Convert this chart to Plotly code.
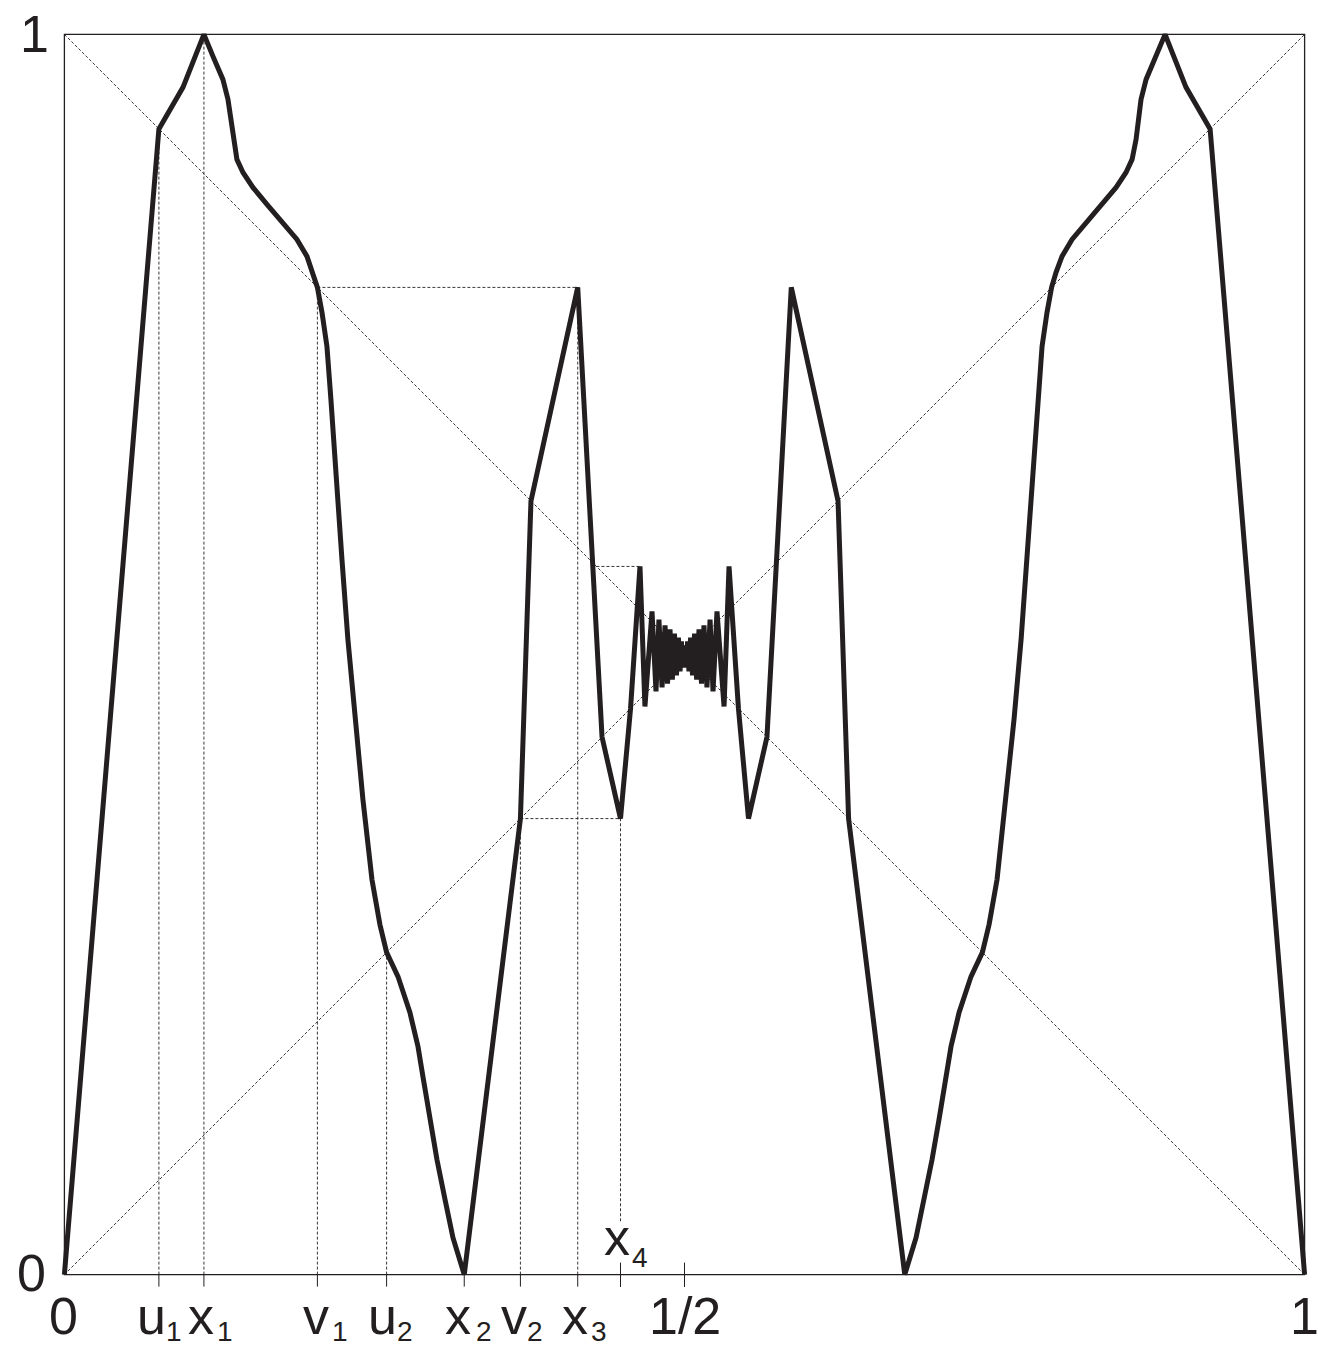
import plotly.graph_objects as go

# ---------------- data ----------------
# named points on the x axis
u1, x1, v1, u2, x2, v2, x3, x4, half = 0.0762, 0.1125, 0.2040, 0.2598, 0.3224, 0.3677, 0.4139, 0.4484, 0.5
f_u1, f_x1, f_v1, f_u2, f_v2, f_x3, f_x4 = 0.9238, 1.0, 0.7960, 0.2598, 0.3677, 0.7960, 0.3677
spike_x, spike_y, spike_from = 0.4641, 0.5710, 0.4290

# graph of the map, left half
curve_x_left = [0.0000, 0.0762, 0.0956, 0.1125, 0.1198, 0.1278, 0.1319, 0.1343, 0.1359, 0.1391,
                0.1440, 0.1520, 0.1633, 0.1762, 0.1875, 0.1956, 0.2004, 0.2040, 0.2077, 0.2117,
                0.2149, 0.2189, 0.2238, 0.2286, 0.2343, 0.2407, 0.2480, 0.2544, 0.2598, 0.2690,
                0.2786, 0.2851, 0.2891, 0.2948, 0.3004, 0.3069, 0.3133, 0.3224, 0.3677, 0.3762,
                0.4139, 0.4335, 0.4484, 0.4565, 0.4641, 0.4681, 0.4738, 0.4770, 0.4794, 0.4819,
                0.4843, 0.4863, 0.4883, 0.4902, 0.4919, 0.4935, 0.4951, 0.4964, 0.4975, 0.4985,
                0.4993, 0.5000]
curve_y_left = [0.0000, 0.9238, 0.9573, 1.0000, 0.9823, 0.9637, 0.9476, 0.9315, 0.9153, 0.8992,
                0.8887, 0.8766, 0.8629, 0.8484, 0.8347, 0.8210, 0.8081, 0.7960, 0.7758, 0.7484,
                0.7056, 0.6411, 0.5766, 0.5121, 0.4476, 0.3831, 0.3185, 0.2823, 0.2598, 0.2403,
                0.2113, 0.1839, 0.1597, 0.1250, 0.0927, 0.0605, 0.0298, 0.0000, 0.3677, 0.6238,
                0.7960, 0.4335, 0.3677, 0.4565, 0.5710, 0.4581, 0.5347, 0.4702, 0.5282, 0.4734,
                0.5234, 0.4766, 0.5202, 0.4798, 0.5169, 0.4831, 0.5137, 0.4863, 0.5105, 0.4895,
                0.5073, 0.5040]

# graph of the map, right half
curve_x_right = [0.5007, 0.5015, 0.5025, 0.5036, 0.5049, 0.5065, 0.5081, 0.5098, 0.5117, 0.5137,
                 0.5157, 0.5181, 0.5206, 0.5230, 0.5262, 0.5319, 0.5359, 0.5435, 0.5516, 0.5665,
                 0.5861, 0.6238, 0.6323, 0.6776, 0.6867, 0.6931, 0.6996, 0.7052, 0.7109, 0.7149,
                 0.7214, 0.7310, 0.7402, 0.7456, 0.7520, 0.7593, 0.7657, 0.7714, 0.7762, 0.7811,
                 0.7851, 0.7883, 0.7923, 0.7960, 0.7996, 0.8044, 0.8125, 0.8238, 0.8367, 0.8480,
                 0.8560, 0.8609, 0.8641, 0.8657, 0.8681, 0.8722, 0.8802, 0.8875, 0.9044, 0.9238,
                 1.0000]
curve_y_right = [0.5073, 0.4895, 0.5105, 0.4863, 0.5137, 0.4831, 0.5169, 0.4798, 0.5202, 0.4766,
                 0.5234, 0.4734, 0.5282, 0.4702, 0.5347, 0.4581, 0.5710, 0.4565, 0.3677, 0.4335,
                 0.7960, 0.6238, 0.3677, 0.0000, 0.0298, 0.0605, 0.0927, 0.1250, 0.1597, 0.1839,
                 0.2113, 0.2403, 0.2598, 0.2823, 0.3185, 0.3831, 0.4476, 0.5121, 0.5766, 0.6411,
                 0.7056, 0.7484, 0.7758, 0.7960, 0.8081, 0.8210, 0.8347, 0.8484, 0.8629, 0.8766,
                 0.8887, 0.8992, 0.9153, 0.9315, 0.9476, 0.9637, 0.9823, 1.0000, 0.9573, 0.9238,
                 0.0000]

# ---------------- styling ----------------
INK = "#231f20"
FONT = "Liberation Sans, Arial, Helvetica, sans-serif"
BIG, SMALL = 52, 28
DOT = "3px,2px"
THIN = 0.9
x4_guide_stop = 0.043

fig = go.Figure()
fig.add_trace(go.Scatter(x=curve_x_left + curve_x_right, y=curve_y_left + curve_y_right,
                         mode="lines", line=dict(color=INK, width=5), hoverinfo="skip",
                         showlegend=False))

shapes = []
# frame
shapes.append(dict(type="rect", xref="x", yref="y", x0=0, x1=1, y0=0, y1=1,
                   line=dict(color=INK, width=1.3)))
# diagonals
shapes.append(dict(type="line", xref="x", yref="y", x0=0, y0=0, x1=1, y1=1,
                   line=dict(color=INK, width=THIN, dash=DOT)))
shapes.append(dict(type="line", xref="x", yref="y", x0=0, y0=1, x1=1, y1=0,
                   line=dict(color=INK, width=THIN, dash=DOT)))
# vertical guides
for xv, top in [(u1, f_u1), (x1, f_x1), (v1, f_v1), (u2, f_u2), (v2, f_v2), (x3, f_x3)]:
    shapes.append(dict(type="line", xref="x", yref="y", x0=xv, x1=xv, y0=0, y1=top,
                       line=dict(color=INK, width=THIN, dash=DOT)))
shapes.append(dict(type="line", xref="x", yref="y", x0=x4, x1=x4, y0=x4_guide_stop, y1=f_x4,
                   line=dict(color=INK, width=THIN, dash=DOT)))
# horizontal guides
for xa, xb, yv in [(v1, x3, f_v1), (v2, x4, f_v2), (spike_from, spike_x, spike_y)]:
    shapes.append(dict(type="line", xref="x", yref="y", x0=xa, x1=xb, y0=yv, y1=yv,
                       line=dict(color=INK, width=THIN, dash=DOT)))
# tick marks
for xv in [u1, x1, v1, u2, x2, v2, x3]:
    shapes.append(dict(type="line", xref="x", yref="y", ysizemode="pixel", yanchor=0,
                       x0=xv, x1=xv, y0=0, y1=-12, line=dict(color=INK, width=1)))
for xv in [x4, half]:
    shapes.append(dict(type="line", xref="x", yref="y", ysizemode="pixel", yanchor=0,
                       x0=xv, x1=xv, y0=12, y1=-13, line=dict(color=INK, width=1)))

# labels: (text, x anchor, y anchor, xshift, yshift, size)
labels = [
    ("0", 0, 0, -33, 2, BIG),
    ("1", 0, 1, -30, 0, BIG),
    ("0", 0, 0, -1, -41, BIG),
    ("u", u1, 0, -7, -41, BIG), ("1", u1, 0, 15, -57, SMALL),
    ("x", x1, 0, -3, -41, BIG), ("1", x1, 0, 21, -57, SMALL),
    ("v", v1, 0, -1, -41, BIG), ("1", v1, 0, 23, -57, SMALL),
    ("u", u2, 0, -4, -41, BIG), ("2", u2, 0, 18, -57, SMALL),
    ("x", x2, 0, -6, -41, BIG), ("2", x2, 0, 20, -57, SMALL),
    ("v", v2, 0, -6, -41, BIG), ("2", v2, 0, 15, -57, SMALL),
    ("x", x3, 0, -3, -41, BIG), ("3", x3, 0, 21, -57, SMALL),
    ("x", x4, 0, -4, 38, BIG), ("4", x4, 0, 19, 17, SMALL),
    ("1/2", half, 0, 0, -41, BIG),
    ("1", 1, 0, 0, -41, BIG),
]
annotations = [dict(text=t, x=xa, y=ya, xref="x", yref="y", xshift=xs, yshift=ys,
                    showarrow=False, xanchor="center", yanchor="middle",
                    font=dict(family=FONT, size=sz, color=INK))
               for t, xa, ya, xs, ys, sz in labels]

axis = dict(range=[-0.01, 1.01], showgrid=False, zeroline=False, showticklabels=False,
            ticks="", showline=False, fixedrange=True)
fig.update_layout(width=1328, height=1360, autosize=False,
                  margin=dict(l=52, r=11, t=22, b=73, pad=0),
                  paper_bgcolor="white", plot_bgcolor="white",
                  xaxis=axis, yaxis=axis, shapes=shapes, annotations=annotations,
                  showlegend=False)

fig.write_html("out.html", config={"displayModeBar": False},
               post_script="document.body.style.margin='0';document.body.style.overflow='hidden';")
